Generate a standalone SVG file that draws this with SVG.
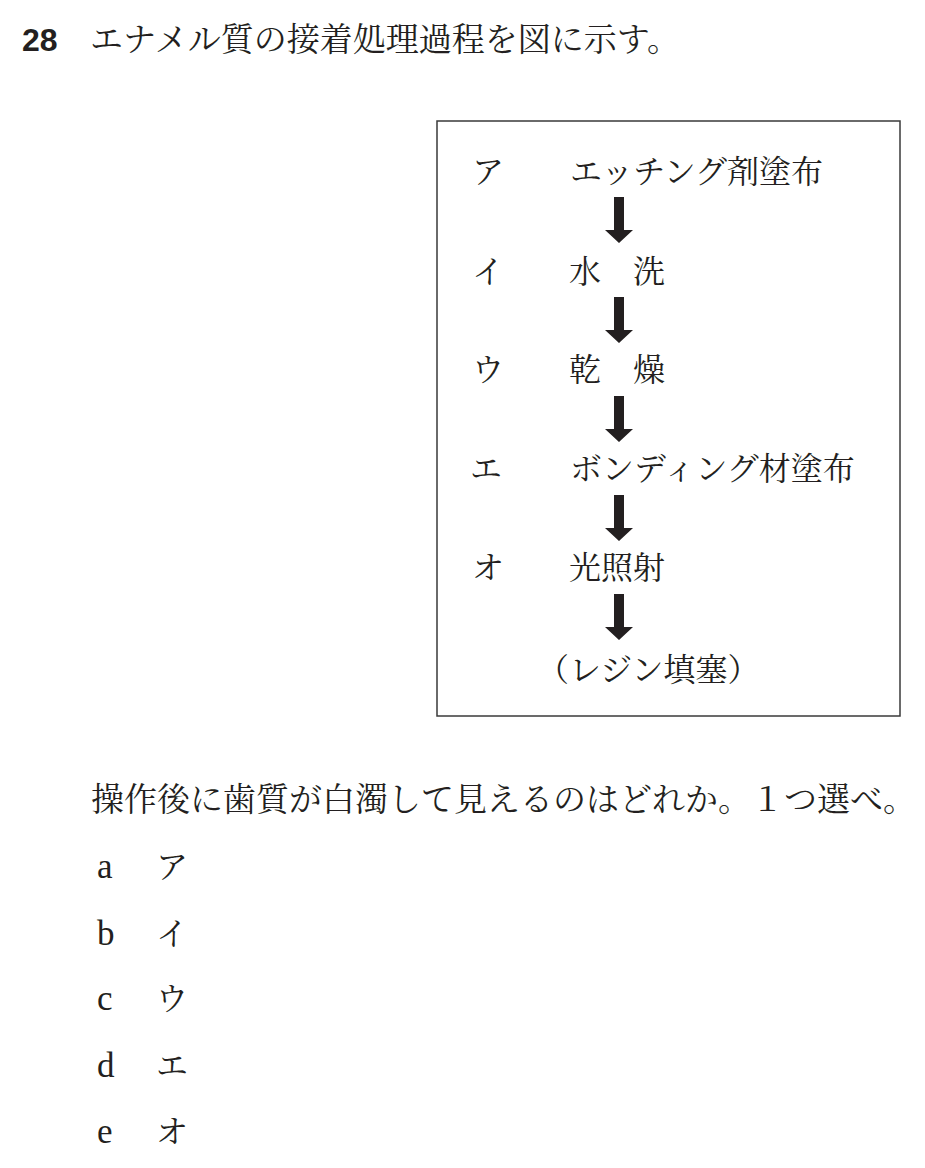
<svg xmlns="http://www.w3.org/2000/svg" width="925" height="1168" viewBox="0 0 925 1168">
<style>
.jp{font-family:"Noto Serif CJK JP","Noto Sans CJK JP",serif;font-size:32px;fill:#231f20}
.t{font-size:33px}
.num{font-family:"Liberation Sans",Arial,sans-serif;font-weight:bold;font-size:32px;fill:#231f20}
.lat{font-family:"Liberation Serif","Times New Roman",serif;font-size:35px;fill:#231f20}
.arrow{fill:#231f20}
</style>
<defs>
<path id="arr" d="M-5,0 H5 V33 H14 L0,46 L-14,33 H-5 Z"/>
</defs>
<rect width="925" height="1168" fill="#fff"/>
<g id="title">
<text class="num" x="22" y="51">28</text>
<text class="jp t" x="90" y="51">エナメル質の接着処理過程を図に示す。</text>
</g>
<g id="box">
<rect x="437" y="121" width="463" height="595" fill="none" stroke="#3a3a3a" stroke-width="1.5"/>
</g>
<g id="step-a">
<text class="jp" x="472" y="183">ア</text>
<text class="jp" x="570" y="183">エッチング剤塗布</text>
</g>
<g id="step-i">
<text class="jp" x="472" y="283">イ</text>
<text class="jp" x="569" y="283">水　洗</text>
</g>
<g id="step-u">
<text class="jp" x="472" y="381">ウ</text>
<text class="jp" x="569" y="381">乾　燥</text>
</g>
<g id="step-e">
<text class="jp" x="470" y="480">エ</text>
<text class="jp" x="570" y="480">ボンディング材塗布</text>
</g>
<g id="step-o">
<text class="jp" x="472" y="579">オ</text>
<text class="jp" x="569" y="579">光照射</text>
</g>
<g id="result">
<text class="jp" x="537" y="681">（レジン填塞）</text>
</g>
<g id="connectors" class="arrow">
<use href="#arr" x="619" y="197"/>
<use href="#arr" x="619" y="297"/>
<use href="#arr" x="619" y="396"/>
<use href="#arr" x="619" y="495"/>
<use href="#arr" x="619" y="594"/>
</g>
<g id="question">
<text class="jp t" x="91" y="811">操作後に歯質が白濁して見えるのはどれか。１つ選べ。</text>
</g>
<g id="options">
<text class="lat" x="97" y="878">a</text><text class="jp" x="156" y="878">ア</text>
<text class="lat" x="97" y="945">b</text><text class="jp" x="156" y="945">イ</text>
<text class="lat" x="97" y="1010">c</text><text class="jp" x="156" y="1010">ウ</text>
<text class="lat" x="97" y="1077">d</text><text class="jp" x="156" y="1077">エ</text>
<text class="lat" x="97" y="1143">e</text><text class="jp" x="156" y="1143">オ</text>
</g>
</svg>
